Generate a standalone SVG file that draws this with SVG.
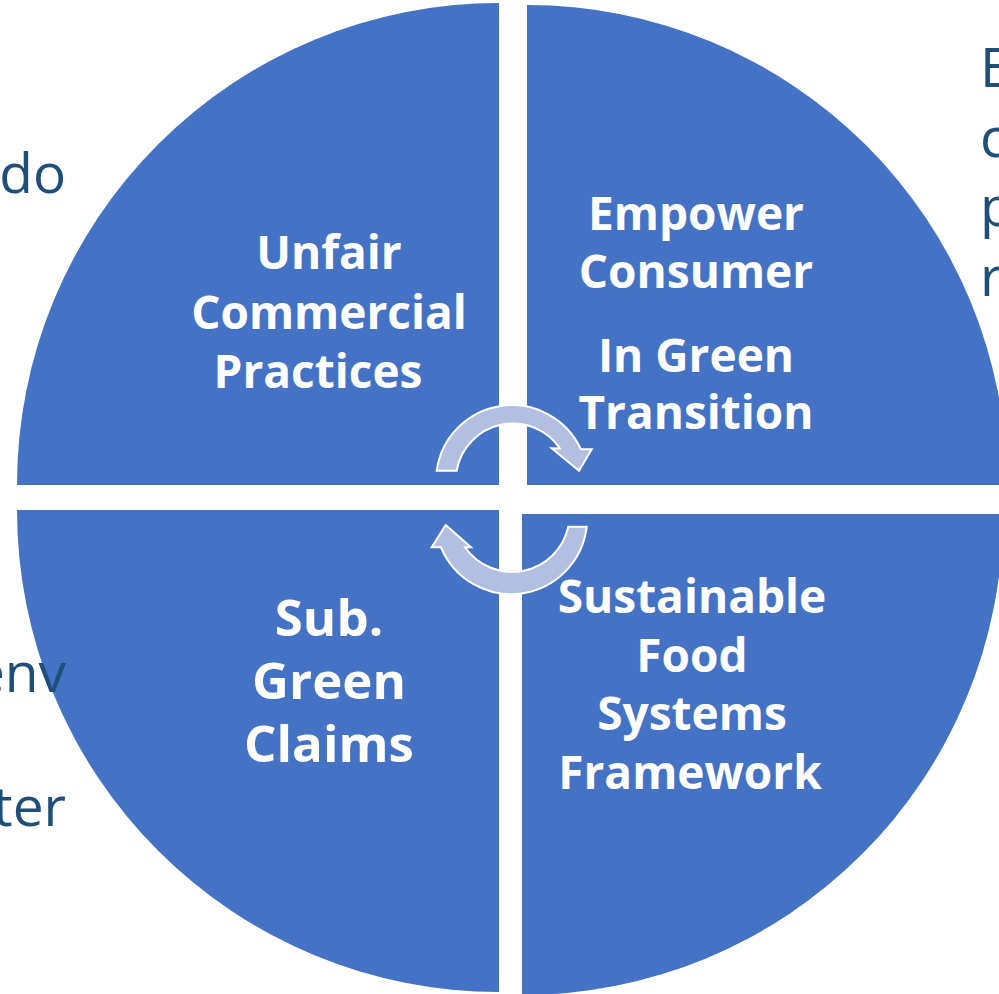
<svg xmlns="http://www.w3.org/2000/svg" width="999" height="994" viewBox="0 0 999 994">
  <style>
    .quad { fill: #4472C4; }
    .label { fill: #FFFFFF; font-family: "Open Sans", "Noto Sans", "Liberation Sans", sans-serif; font-weight: 700; font-size: 46px; text-anchor: middle; }
    .big { font-size: 51px; }
    .side { fill: #1F4E79; font-family: "Open Sans", "Noto Sans", "Liberation Sans", sans-serif; font-weight: 400; font-size: 55px; }
    .cycle { fill: #B3BFE1; stroke: #FFFFFF; stroke-width: 2; stroke-linejoin: miter; }
  </style>

  <rect width="999" height="994" fill="#FFFFFF"/>

  <!-- quarter segments of the circle -->
  <g id="node-unfair-practices">
    <path class="quad" d="M499,485 L17,485 A482,482 0 0 1 499,3 Z"/>
    <text class="label" x="329" y="269">Unfair</text>
    <text class="label" x="329" y="328.5">Commercial</text>
    <text class="label" x="318" y="388">Practices</text>
  </g>

  <g id="node-empower-consumer">
    <path class="quad" d="M527,485 L527,5 A480,480 0 0 1 1007,485 Z"/>
    <text class="label" x="696" y="230">Empower</text>
    <text class="label" x="696" y="288">Consumer</text>
    <text class="label" x="696" y="372">In Green</text>
    <text class="label" x="696" y="429">Transition</text>
  </g>

  <g id="node-green-claims">
    <path class="quad" d="M499,510 L499,992 A482,482 0 0 1 17,510 Z"/>
    <text class="label big" x="329" y="636">Sub.</text>
    <text class="label big" x="329" y="699">Green</text>
    <text class="label big" x="329" y="762">Claims</text>
  </g>

  <g id="node-food-systems">
    <path class="quad" d="M522,514 L1003,514 A481,481 0 0 1 522,995 Z"/>
    <text class="label" x="692" y="613">Sustainable</text>
    <text class="label" x="692" y="672">Food</text>
    <text class="label" x="692" y="730">Systems</text>
    <text class="label" x="690" y="789">Framework</text>
  </g>

  <!-- circular arrows in the centre -->
  <g id="connectors">
    <path class="cycle" d="M436.7,470.7 A76,76 0 0 1 581,449.3 L591.7,449.3 L579,470.7 L551.7,448.3 L560,448.5 A57,57 0 0 0 456.7,470.7 Z"/>
    <path class="cycle" d="M586.7,526.7 A76,76 0 0 1 441,547.3 L431.7,547.3 L445.7,525 L471,547.3 L465,547.3 A57.5,57.5 0 0 0 568.3,526.7 Z"/>
  </g>

  <!-- partly visible side text -->
  <g id="side-text">
    <text class="side" x="66" y="193" text-anchor="end">do</text>
    <text class="side" x="66" y="692" text-anchor="end">env</text>
    <text class="side" x="66" y="826" text-anchor="end">ter</text>
    <text class="side" x="980" y="87">E</text>
    <text class="side" x="980" y="157">c</text>
    <text class="side" x="980" y="226">p</text>
    <text class="side" x="980" y="296">r</text>
  </g>
</svg>
